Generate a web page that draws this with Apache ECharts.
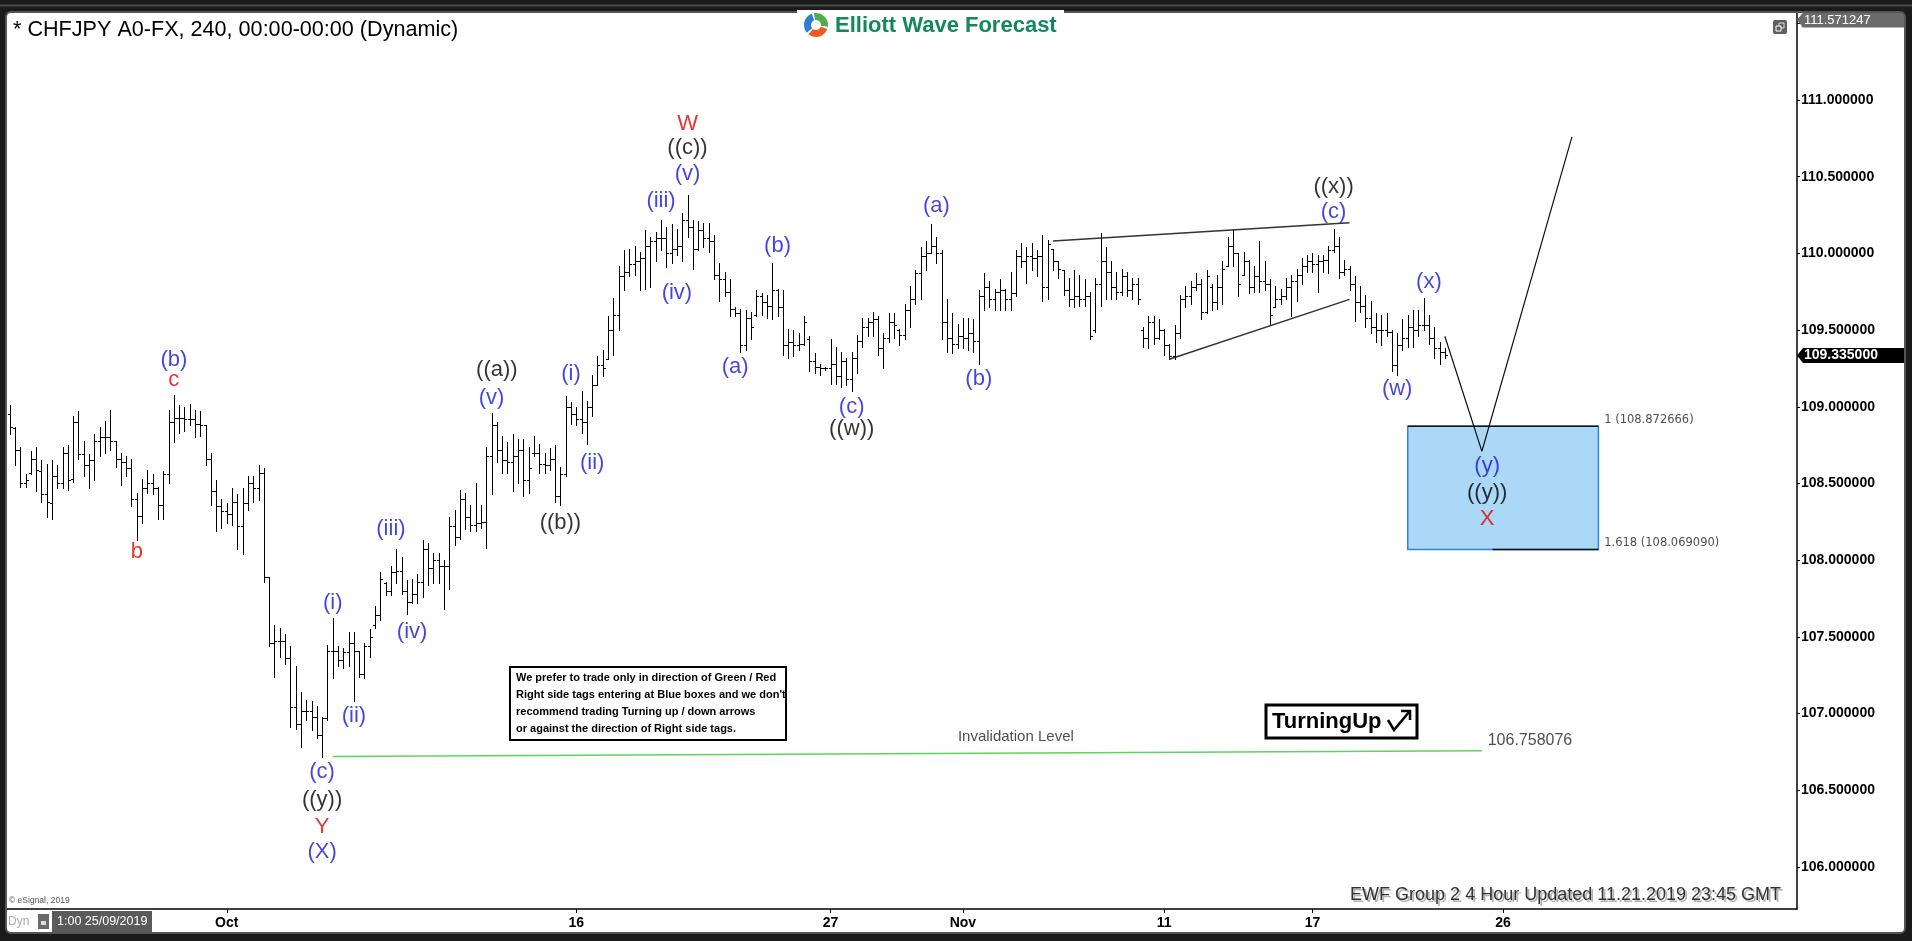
<!DOCTYPE html>
<html><head><meta charset="utf-8">
<script src="https://cdn.jsdelivr.net/npm/echarts@6/dist/echarts.min.js"></script>
<style>html,body{margin:0;padding:0;background:#1b1b1b;}#c{width:1912px;height:941px;}</style>
</head><body><div id="c"></div>
<script>
// ---------------- DATA ----------------
const openP = [
108.95,108.86,108.72,108.50,108.57,108.66,108.58,108.43,108.37,108.55,
108.50,108.70,108.53,108.90,108.69,108.62,108.65,108.78,108.80,108.80,
108.78,108.66,108.64,108.60,108.40,108.29,108.47,108.50,108.47,108.36,
108.56,108.90,108.93,108.93,108.92,108.92,108.89,108.88,108.66,108.45,
108.35,108.32,108.30,108.38,108.22,108.37,108.50,108.47,108.57,107.89,
107.46,107.47,107.47,107.36,107.04,106.93,107.02,107.02,106.98,106.86,
106.97,107.41,107.41,107.35,107.40,107.46,107.41,107.26,107.44,107.58,
107.64,107.85,107.80,107.92,107.93,107.80,107.73,107.78,107.86,108.07,
107.95,108.00,107.96,107.96,108.22,108.15,108.40,108.28,108.23,108.24,
108.25,108.68,108.88,108.72,108.65,108.64,108.68,108.72,108.52,108.70,
108.70,108.63,108.62,108.66,108.42,108.56,109.00,108.95,108.92,108.90,
109.00,109.14,109.27,109.31,109.50,109.60,109.85,109.88,109.93,109.95,
109.97,110.05,110.08,110.10,110.10,110.00,110.03,110.05,110.22,110.17,
110.03,110.15,110.10,110.08,109.86,109.83,109.75,109.64,109.61,109.40,
109.58,109.60,109.72,109.68,109.66,109.76,109.65,109.40,109.42,109.40,
109.41,109.44,109.30,109.26,109.25,109.25,109.28,109.20,109.30,109.18,
109.32,109.43,109.52,109.55,109.57,109.38,109.45,109.55,109.50,109.47,
109.63,109.70,109.87,109.98,110.00,110.05,110.00,109.55,109.45,109.41,
109.46,109.45,109.48,109.43,109.72,109.78,109.70,109.75,109.76,109.70,
109.74,109.98,109.95,109.98,109.97,109.98,109.78,110.03,109.95,109.89,
109.76,109.70,109.72,109.70,109.72,109.50,109.80,109.95,109.88,109.78,
109.75,109.85,109.76,109.80,109.50,109.45,109.55,109.45,109.50,109.40,
109.33,109.48,109.70,109.72,109.78,109.80,109.62,109.78,109.68,109.78,
109.92,110.05,110.00,109.86,109.95,109.78,109.85,109.82,109.80,109.65,
109.70,109.72,109.78,109.82,109.86,109.92,109.95,109.93,109.95,109.96,
110.02,110.05,109.88,109.90,109.80,109.68,109.66,109.58,109.52,109.50,
109.50,109.49,109.27,109.40,109.45,109.52,109.50,109.53,109.53,109.45,
109.38,109.36];
const highP = [
109.01,108.87,108.74,108.56,108.71,108.74,108.65,108.63,108.65,108.62,
108.74,108.75,108.94,108.97,108.78,108.69,108.82,108.87,108.91,108.98,
108.78,108.70,108.68,108.66,108.44,108.53,108.59,108.56,108.48,108.58,
108.98,109.08,109.01,109.00,109.02,108.98,108.97,108.88,108.70,108.52,
108.40,108.37,108.47,108.43,108.47,108.55,108.55,108.62,108.60,107.89,
107.58,107.56,107.52,107.44,107.31,107.14,107.09,107.08,107.05,106.98,
107.45,107.62,107.44,107.43,107.53,107.53,107.41,107.46,107.55,107.70,
107.92,107.86,107.96,108.07,108.02,107.87,107.88,107.91,108.13,108.11,
108.05,108.05,108.00,108.28,108.33,108.46,108.44,108.36,108.50,108.36,
108.74,108.96,108.90,108.81,108.77,108.82,108.79,108.79,108.74,108.81,
108.76,108.70,108.73,108.75,108.61,109.07,109.03,109.00,109.10,109.04,
109.21,109.33,109.37,109.59,109.71,109.92,110.02,110.03,110.05,110.01,
110.15,110.11,110.14,110.22,110.17,110.19,110.16,110.26,110.38,110.22,
110.21,110.20,110.20,110.12,109.94,109.88,109.83,109.65,109.64,109.63,
109.62,109.76,109.74,109.73,109.94,109.77,109.76,109.51,109.50,109.48,
109.59,109.46,109.35,109.28,109.26,109.44,109.39,109.36,109.32,109.36,
109.47,109.58,109.58,109.62,109.59,109.48,109.61,109.61,109.51,109.67,
109.79,109.89,110.04,110.08,110.19,110.11,110.02,109.70,109.61,109.54,
109.58,109.58,109.57,109.76,109.87,109.82,109.77,109.83,109.77,109.88,
110.02,110.07,110.04,110.07,110.02,110.12,110.09,110.03,109.95,109.89,
109.84,109.89,109.86,109.83,109.75,109.84,110.13,110.04,109.95,109.88,
109.90,109.88,109.84,109.84,109.52,109.59,109.59,109.57,109.51,109.41,
109.53,109.73,109.79,109.82,109.87,109.83,109.89,109.80,109.86,109.95,
110.11,110.16,110.00,110.01,109.96,109.92,110.08,109.95,109.83,109.79,
109.77,109.84,109.86,109.90,109.97,109.99,110.00,109.99,109.99,110.05,
110.16,110.11,109.96,109.92,109.85,109.79,109.73,109.69,109.61,109.60,
109.61,109.50,109.48,109.57,109.60,109.63,109.63,109.71,109.60,109.52,
109.42,109.38];
const lowP = [
108.82,108.62,108.48,108.48,108.56,108.45,108.38,108.28,108.27,108.47,
108.47,108.46,108.51,108.66,108.55,108.47,108.52,108.68,108.70,108.72,
108.61,108.49,108.55,108.35,108.13,108.24,108.44,108.43,108.27,108.27,
108.50,108.77,108.83,108.84,108.88,108.80,108.81,108.62,108.36,108.19,
108.21,108.24,108.23,108.07,108.04,108.33,108.38,108.39,107.86,107.44,
107.24,107.37,107.32,106.91,106.90,106.78,106.96,106.89,106.84,106.72,
106.96,107.23,107.31,107.30,107.31,107.08,107.24,107.23,107.37,107.56,
107.61,107.77,107.77,107.85,107.78,107.65,107.72,107.72,107.76,107.84,
107.85,107.85,107.68,107.81,108.10,108.14,108.20,108.19,108.19,108.21,
108.08,108.43,108.64,108.57,108.57,108.45,108.50,108.42,108.44,108.68,
108.57,108.57,108.59,108.38,108.36,108.55,108.89,108.88,108.83,108.76,
108.94,109.14,109.20,109.31,109.34,109.50,109.76,109.85,109.86,109.76,
109.77,109.78,109.95,110.02,109.91,109.94,109.99,109.95,110.11,109.90,
110.02,110.04,110.01,109.83,109.69,109.72,109.59,109.59,109.36,109.37,
109.44,109.59,109.60,109.58,109.57,109.59,109.34,109.32,109.33,109.37,
109.40,109.23,109.22,109.21,109.24,109.15,109.15,109.13,109.14,109.10,
109.22,109.39,109.46,109.46,109.34,109.25,109.42,109.45,109.40,109.44,
109.52,109.67,109.70,109.89,110.00,109.94,109.44,109.36,109.35,109.38,
109.38,109.37,109.36,109.28,109.63,109.65,109.63,109.63,109.63,109.63,
109.72,109.91,109.81,109.89,109.85,109.69,109.70,109.89,109.84,109.73,
109.66,109.65,109.66,109.66,109.44,109.49,109.66,109.70,109.70,109.70,
109.73,109.72,109.70,109.67,109.39,109.38,109.41,109.44,109.34,109.31,
109.31,109.45,109.65,109.67,109.76,109.57,109.61,109.63,109.64,109.67,
109.92,109.92,109.72,109.86,109.74,109.75,109.75,109.76,109.54,109.65,
109.67,109.70,109.59,109.69,109.80,109.88,109.88,109.75,109.88,109.87,
110.01,109.84,109.86,109.76,109.56,109.62,109.52,109.48,109.42,109.40,
109.46,109.23,109.21,109.37,109.39,109.39,109.46,109.50,109.41,109.32,
109.28,109.32];
const closeP = [
108.87,108.72,108.50,108.52,108.66,108.59,108.43,108.38,108.55,108.50,
108.70,108.52,108.90,108.69,108.62,108.65,108.78,108.80,108.80,108.78,
108.66,108.64,108.60,108.40,108.29,108.47,108.50,108.47,108.36,108.56,
108.90,108.93,108.93,108.92,108.92,108.89,108.88,108.66,108.45,108.35,
108.32,108.30,108.38,108.22,108.37,108.50,108.47,108.57,107.89,107.46,
107.47,107.47,107.36,107.04,106.93,107.02,107.02,106.98,106.86,106.97,
107.41,107.41,107.35,107.40,107.46,107.41,107.26,107.44,107.50,107.64,
107.88,107.80,107.92,107.93,107.80,107.73,107.78,107.86,108.07,107.95,
108.00,107.96,107.96,108.22,108.15,108.40,108.28,108.23,108.24,108.25,
108.68,108.88,108.72,108.65,108.64,108.68,108.72,108.52,108.60,108.70,
108.63,108.62,108.66,108.42,108.56,109.00,108.95,108.92,108.90,109.00,
109.14,109.27,109.25,109.50,109.60,109.85,109.88,109.93,109.95,109.97,
110.05,110.08,110.10,110.10,110.00,110.03,110.05,110.22,110.17,110.03,
110.15,110.10,110.08,109.86,109.83,109.75,109.64,109.61,109.40,109.58,
109.52,109.72,109.68,109.66,109.76,109.65,109.40,109.42,109.40,109.41,
109.55,109.30,109.26,109.25,109.25,109.28,109.20,109.30,109.18,109.32,
109.43,109.52,109.55,109.57,109.38,109.45,109.55,109.53,109.47,109.63,
109.70,109.87,109.98,110.00,110.05,110.00,109.55,109.45,109.41,109.46,
109.45,109.48,109.43,109.72,109.78,109.70,109.75,109.76,109.70,109.74,
109.98,109.95,109.98,109.97,109.98,109.78,110.06,109.95,109.90,109.76,
109.70,109.72,109.70,109.72,109.46,109.80,109.95,109.88,109.78,109.75,
109.85,109.76,109.80,109.70,109.45,109.55,109.45,109.50,109.40,109.33,
109.48,109.70,109.72,109.78,109.80,109.62,109.85,109.68,109.78,109.90,
110.05,110.00,109.80,109.95,109.78,109.85,109.82,109.80,109.60,109.70,
109.72,109.78,109.82,109.86,109.92,109.95,109.93,109.95,109.96,110.02,
110.05,109.88,109.90,109.80,109.68,109.66,109.58,109.52,109.50,109.50,
109.49,109.27,109.40,109.45,109.52,109.50,109.53,109.53,109.45,109.38,
109.36,109.335];

const categoryCount = 338;                 // bar slots incl. the empty future area
const tickIndex = [41, 107, 155, 180, 218, 246, 282];
const tickText  = ['Oct', '16', '27', 'Nov', '11', '17', '26'];
const yTickValues = [106, 106.5, 107, 107.5, 108, 108.5, 109, 109.5, 110, 110.5, 111, 111.5];
const yMin = 105.726, yMax = 111.567;

// wave labels: [text, bar index, price, kind]
const waveLabels = [
  ['(b)',31,109.305,'blue'], ['c',31,109.175,'red'], ['b',24,108.053,'red'],
  ['(i)',61,107.721,'blue'], ['(ii)',65,106.984,'blue'], ['(iii)',72,108.203,'blue'], ['(iv)',76,107.532,'blue'],
  ['(c)',59,106.619,'blue'], ['((y))',59,106.437,'black'], ['Y',59,106.261,'red'], ['(X)',59,106.098,'blue'],
  ['((a))',92,109.240,'black'], ['(v)',91,109.057,'blue'], ['((b))',104,108.242,'black'],
  ['(i)',106,109.214,'blue'], ['(ii)',110,108.634,'blue'], ['(iii)',123,110.342,'blue'], ['(iv)',126,109.742,'blue'],
  ['(v)',128,110.518,'blue'], ['((c))',128,110.687,'black'], ['W',128,110.844,'red'],
  ['(a)',137,109.259,'blue'], ['(b)',145,110.048,'blue'], ['(c)',159,108.999,'blue'], ['((w))',159,108.855,'black'],
  ['(a)',175,110.309,'blue'], ['(b)',183,109.181,'blue'],
  ['((x))',250,110.433,'black'], ['(c)',250,110.270,'blue'],
  ['(x)',268,109.814,'blue'], ['(w)',262,109.116,'blue'],
  ['(y)',279,108.614,'blue'], ['((y))',279,108.438,'black'], ['X',279,108.269,'red']
];
const wedgeUpper = [[197, 110.08], [253, 110.20]];
const wedgeLower = [[219, 109.31], [253, 109.70]];
const projection = [[271, 109.46], [278, 108.71], [295, 110.76]];
const invalidation = [[61, 106.72], [278, 106.758076]];
const boxStart = 264, boxEnd = 300, boxBottomStart = 280;
const fibTop = 108.872666, fibBottom = 108.069090;
const lastPrice = 109.335, topPrice = 111.571247;
// plain text anchored to chart values: [text, bar index, price]
const fibTexts = [['1 (108.872666)', 301, 108.914], ['1.618 (108.069090)', 301, 108.112]];
const invalidTexts = [['Invalidation Level', 190, 106.847]];
const invalidValueText = [['106.758076', 279, 106.821]];

// ---------------- CHART ----------------
const FONT = 'Liberation Sans, Arial, Helvetica, sans-serif';
const kindStyle = {
  blue: {color: '#1515d6', fontSize: 22},
  black: {color: '#000000', fontSize: 22},
  red: {color: '#e00000', fontSize: 22}
};
const cats = Array.from({length: categoryCount}, (_, i) => 'c' + i);
const tickMap = {};
tickIndex.forEach((ix, k) => tickMap[ix] = tickText[k]);

const chart = echarts.init(document.getElementById('c'));

function renderOHLC(params, api) {
  const i = api.value(0);
  const pH = api.coord([i, api.value(2)]);
  const pL = api.coord([i, api.value(3)]);
  const yO = Math.round(api.coord([i, api.value(1)])[1]) + 0.5;
  const yC = Math.round(api.coord([i, api.value(4)])[1]) + 0.5;
  const x = Math.round(pH[0]) + 0.5;
  const st = {stroke: '#000', lineWidth: 1};
  return {type: 'group', children: [
    {type: 'line', shape: {x1: x, y1: Math.round(pH[1]), x2: x, y2: Math.round(pL[1]) + 1}, style: st},
    {type: 'line', shape: {x1: x - 2.5, y1: yO, x2: x, y2: yO}, style: st},
    {type: 'line', shape: {x1: x, y1: yC, x2: x + 2.5, y2: yC}, style: st}
  ]};
}

function textSeries(list, opt) {
  return {
    type: 'scatter', symbol: 'circle', symbolSize: 1, itemStyle: {color: 'rgba(0,0,0,0)'}, z: 6, silent: true,
    data: list.map(t => ({name: t[0], value: [t[1], t[2]]})),
    label: Object.assign({show: true, formatter: p => p.name, fontFamily: FONT}, opt)
  };
}

const option = {
  animation: false,
  backgroundColor: '#ffffff',
  grid: {left: 7, right: 115, top: 13, bottom: 32},
  xAxis: {
    type: 'category', data: cats, boundaryGap: true,
    axisLine: {show: true, lineStyle: {color: '#000', width: 1.5}},
    axisTick: {show: true, alignWithLabel: true, length: 4, interval: (i) => tickMap[i] !== undefined, lineStyle: {color: '#000'}},
    axisLabel: {interval: (i) => tickMap[i] !== undefined, formatter: (v, i) => tickMap[i] || '',
      color: '#000', fontWeight: 'bold', fontSize: 14, fontFamily: FONT, margin: 7},
    splitLine: {show: false}
  },
  yAxis: {
    type: 'value', position: 'right', min: yMin, max: yMax, scale: true,
    axisLine: {show: true, lineStyle: {color: '#000', width: 1.5}},
    axisTick: {show: true, length: 3, customValues: yTickValues, lineStyle: {color: '#000'}},
    axisLabel: {customValues: yTickValues, formatter: v => v.toFixed(6), color: '#000',
      fontWeight: 'bold', fontSize: 14, fontFamily: FONT, margin: 4, showMinLabel: true, showMaxLabel: true},
    splitLine: {show: false}
  },
  series: [
    {
      type: 'line', name: 'boxTop', z: 1, silent: true, symbol: 'none',
      data: [[boxStart, fibTop], [boxEnd, fibTop]],
      lineStyle: {color: '#111', width: 1.5},
      markArea: {silent: true, z: 1,
        itemStyle: {color: '#acd8f7', borderColor: '#2f86d6', borderWidth: 1.5},
        data: [[{coord: [boxStart, fibTop]}, {coord: [boxEnd, fibBottom]}]]}
    },
    {type: 'line', name: 'boxBottom', z: 2, silent: true, symbol: 'none',
      data: [[boxBottomStart, fibBottom], [boxEnd, fibBottom]], lineStyle: {color: '#111', width: 1.5}},
    {type: 'custom', name: 'CHFJPY', renderItem: renderOHLC, z: 3, silent: true,
      encode: {x: 0, y: [1, 2, 3, 4]},
      data: openP.map((o, i) => [i, o, highP[i], lowP[i], closeP[i]])},
    {type: 'line', name: 'wedgeUpper', z: 4, silent: true, symbol: 'none', data: wedgeUpper, lineStyle: {color: '#333', width: 1.5}},
    {type: 'line', name: 'wedgeLower', z: 4, silent: true, symbol: 'none', data: wedgeLower, lineStyle: {color: '#333', width: 1.5}},
    {type: 'line', name: 'projection', z: 4, silent: true, symbol: 'none', data: projection, lineStyle: {color: '#111', width: 1.2}},
    {type: 'line', name: 'invalidation', z: 4, silent: true, symbol: 'none', data: invalidation, lineStyle: {color: '#5fd35f', width: 1.5}},
    {
      type: 'scatter', symbol: 'circle', symbolSize: 1, itemStyle: {color: 'rgba(0,0,0,0)'}, z: 7, silent: true,
      data: waveLabels.map(w => ({name: w[0], value: [w[1], w[2]],
        label: {color: kindStyle[w[3]].color, fontSize: kindStyle[w[3]].fontSize}})),
      label: {show: true, position: 'inside', formatter: p => p.name, fontFamily: FONT}
    },
    textSeries(fibTexts, {position: 'right', distance: 0, color: '#222', fontSize: 11.5, fontFamily: 'DejaVu Sans, Verdana, sans-serif'}),
    textSeries(invalidTexts, {position: 'inside', color: '#222', fontSize: 15}),
    textSeries(invalidValueText, {position: 'right', distance: 0, color: '#222', fontSize: 16})
  ]
};
chart.setOption(option);

// ---------------- decorations ----------------
const yPx = v => chart.convertToPixel({yAxisIndex: 0}, v);
const axisX = 1797, frameR = 1904;
function tag(v, bg, txt, bold, clampTop) {
  let yc = yPx(v);
  if (clampTop) yc = Math.max(yc, 20);
  return [
    {type: 'polygon', z: 50, shape: {points: [[axisX, yc], [axisX + 6, yc - 7.5], [frameR, yc - 7.5], [frameR, yc + 7.5], [axisX + 6, yc + 7.5]]}, style: {fill: bg}},
    {type: 'text', z: 51, x: axisX + 7, y: yc, style: {text: txt, fill: '#fff', font: (bold ? 'bold 14px ' : '13px ') + FONT, textVerticalAlign: 'middle', textAlign: 'left'}}
  ];
}
const dark = '#1b1b1b';
const g = [
  // outer frame
  {type: 'rect', z: 90, shape: {x: 0, y: 0, width: 1912, height: 13}, style: {fill: dark}},
  {type: 'rect', z: 90, shape: {x: 0, y: 0, width: 7, height: 941}, style: {fill: dark}},
  {type: 'rect', z: 90, shape: {x: frameR, y: 0, width: 8, height: 941}, style: {fill: dark}},
  {type: 'rect', z: 90, shape: {x: 0, y: 932, width: 1912, height: 9}, style: {fill: dark}},
  {type: 'line', z: 91, shape: {x1: 0, y1: 5.5, x2: 1912, y2: 5.5}, style: {stroke: '#4a4a4a', lineWidth: 2}},
  {type: 'rect', z: 91, shape: {x: 6, y: 12, width: frameR - 5, height: 921, r: 5}, style: {fill: 'none', stroke: '#555', lineWidth: 2}},
  // logo
  {type: 'rect', z: 95, shape: {x: 797, y: 10, width: 267, height: 31}, style: {fill: '#fff'}},
  {type: 'sector', z: 96, shape: {cx: 816, cy: 25, r0: 5, r: 12, startAngle: -1.75, endAngle: 0.15}, style: {fill: '#4fae4a'}},
  {type: 'sector', z: 96, shape: {cx: 816, cy: 25, r0: 5, r: 12, startAngle: 0.35, endAngle: 2.25}, style: {fill: '#ef5a24'}},
  {type: 'sector', z: 96, shape: {cx: 816, cy: 25, r0: 5, r: 12, startAngle: 2.45, endAngle: 4.35}, style: {fill: '#2a7fd4'}},
  {type: 'text', z: 96, x: 835, y: 26, style: {text: 'Elliott Wave Forecast', fill: '#13895b', font: 'bold 22px ' + FONT, textVerticalAlign: 'middle'}},
  // title
  {type: 'text', z: 20, x: 13, y: 30, style: {text: '* CHFJPY A0-FX, 240, 00:00-00:00 (Dynamic)', fill: '#000', font: '21.6px ' + FONT, textVerticalAlign: 'middle'}},
  // window icon
  {type: 'rect', z: 20, shape: {x: 1773, y: 20, width: 14, height: 14, r: 2}, style: {fill: '#5e5e5e'}},
  {type: 'rect', z: 21, shape: {x: 1779, y: 23, width: 5, height: 5}, style: {fill: 'none', stroke: '#ddd', lineWidth: 1}},
  {type: 'rect', z: 21, shape: {x: 1776, y: 26, width: 5, height: 5}, style: {fill: '#5e5e5e', stroke: '#fff', lineWidth: 1}},
  // note box
  {type: 'rect', z: 20, shape: {x: 510, y: 667, width: 276, height: 73}, style: {fill: '#fff', stroke: '#000', lineWidth: 2}},
  {type: 'text', z: 21, x: 516, y: 669, style: {text: "We prefer to trade only in direction of Green / Red\nRight side tags entering at Blue boxes and we don't\nrecommend trading Turning up / down arrows\nor against the direction of Right side tags.",
    fill: '#000', font: 'bold 11px ' + FONT, lineHeight: 17, textVerticalAlign: 'top'}},
  // Turning up box
  {type: 'rect', z: 20, shape: {x: 1266, y: 705, width: 151, height: 33}, style: {fill: '#fff', stroke: '#000', lineWidth: 3}},
  {type: 'text', z: 21, x: 1272, y: 722, style: {text: 'TurningUp', fill: '#000', font: 'bold 22px ' + FONT, textVerticalAlign: 'middle'}},
  {type: 'polyline', z: 21, shape: {points: [[1388, 720], [1394, 730], [1409, 712]]}, style: {stroke: '#000', lineWidth: 2.5, fill: 'none'}},
  {type: 'polyline', z: 21, shape: {points: [[1401, 711], [1410, 711], [1410, 720]]}, style: {stroke: '#000', lineWidth: 2.5, fill: 'none'}},
  // bottom-left bits
  {type: 'text', z: 20, x: 9, y: 901, style: {text: '© eSignal, 2019', fill: '#555', font: '8.5px ' + FONT, textVerticalAlign: 'middle'}},
  {type: 'text', z: 20, x: 8, y: 922, style: {text: 'Dyn', fill: '#aaa', font: '12px ' + FONT, textVerticalAlign: 'middle'}},
  {type: 'rect', z: 20, shape: {x: 38, y: 914, width: 11, height: 15}, style: {fill: '#6a6a6a'}},
  {type: 'rect', z: 21, shape: {x: 41, y: 921, width: 5, height: 4}, style: {fill: '#ddd'}},
  {type: 'rect', z: 20, shape: {x: 52, y: 911, width: 100, height: 21}, style: {fill: '#5a5a5a'}},
  {type: 'text', z: 21, x: 57, y: 922, style: {text: '1:00 25/09/2019', fill: '#fff', font: '12.5px ' + FONT, textVerticalAlign: 'middle'}},
  // update stamp
  {type: 'text', z: 20, x: 1783, y: 897, style: {text: 'EWF Group 2 4 Hour Updated 11.21.2019 23:45 GMT', fill: '#b4b4b4', font: '18px ' + FONT, textAlign: 'right', textVerticalAlign: 'middle'}},
  {type: 'text', z: 21, x: 1781, y: 895, style: {text: 'EWF Group 2 4 Hour Updated 11.21.2019 23:45 GMT', fill: '#333', font: '18px ' + FONT, textAlign: 'right', textVerticalAlign: 'middle'}}
].concat(tag(topPrice, '#6b6b6b', topPrice.toFixed(6), false, true))
 .concat(tag(lastPrice, '#000', lastPrice.toFixed(6), true, false));
chart.setOption({graphic: {elements: g}});
</script></body></html>
